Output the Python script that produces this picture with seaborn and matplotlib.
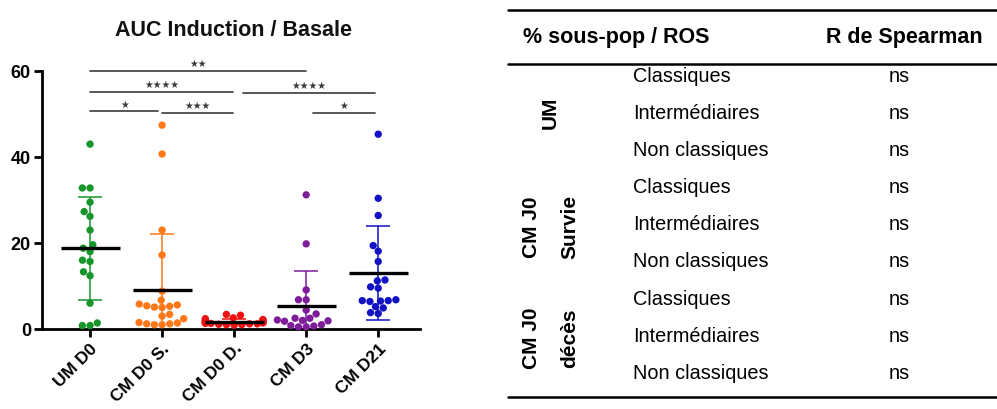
import numpy as np
import pandas as pd
import matplotlib
matplotlib.use("Agg")
import matplotlib.pyplot as plt
import seaborn as sns

# ---- data ----
groups = ["UM D0", "CM D0 S.", "CM D0 D.", "CM D3", "CM D21"]
colors = ["#16962a", "#ff7716", "#ee1111", "#7d1d9a", "#1212c4"]

um_d0 = [43.0, 32.8, 32.8, 29.5, 27.3, 26.2, 23.0, 19.6, 18.8, 18.0,
         16.0, 15.7, 13.3, 12.4, 6.0, 1.4, 0.8, 0.8]
cm_d0_s = [47.4, 40.7, 23.0, 17.2, 8.8, 6.7, 5.6, 5.3, 5.1, 5.0, 5.4,
           5.8, 3.4, 3.0, 2.4, 1.4, 1.2, 1.0, 1.0, 1.2, 1.5]
cm_d0_d = [3.4, 3.2, 2.6, 2.4, 2.2, 2.1, 2.0, 1.9, 1.8, 1.7, 1.6,
           1.5, 1.5, 1.4, 1.3, 1.3, 1.2, 1.2, 1.1, 1.0, 1.0, 0.9]
cm_d3 = [31.2, 19.8, 9.1, 6.8, 6.8, 4.4, 3.5, 2.5, 2.5, 2.1, 1.8,
         1.9, 2.0, 1.0, 0.8, 0.7, 0.5, 0.5]
cm_d21 = [45.3, 30.4, 26.4, 19.4, 18.1, 15.7, 11.4, 11.2, 9.8, 9.5,
          6.8, 6.6, 6.6, 6.5, 6.4, 5.2, 4.9, 3.8, 3.6]
values = [um_d0, cm_d0_s, cm_d0_d, cm_d3, cm_d21]

# significance comparisons: (group a, group b, height, label)
comparisons = [
    ("UM D0", "CM D3", 60.0, "★★"),
    ("UM D0", "CM D0 D.", 55.2, "★★★★"),
    ("CM D0 D.", "CM D21", 54.9, "★★★★"),
    ("UM D0", "CM D0 S.", 50.6, "★"),
    ("CM D0 S.", "CM D0 D.", 50.3, "★★★"),
    ("CM D3", "CM D21", 50.3, "★"),
]
# start/end trims (in category units) of the comparison lines
comp_trim = [(0, 0), (0, 0.01), (0.12, 0.05), (0, 0.05), (0, 0.01), (0.1, 0.05)]

# table on the right
table_header = ["% sous-pop / ROS", "R de Spearman"]
subpops = ["Classiques", "Intermédiaires", "Non classiques"] * 3
spearman = ["ns"] * 9
row_groups = [("UM", None), ("CM J0", "Survie"), ("CM J0", "décès")]

df = pd.DataFrame({
    "group": np.repeat(groups, [len(v) for v in values]),
    "auc": np.concatenate(values),
})

sns.set_style("ticks", {"axes.edgecolor": "black", "text.color": "black",
                        "xtick.color": "black", "ytick.color": "black"})
plt.rcParams["font.family"] = ["Liberation Sans", "DejaVu Sans"]

W, H = 997, 410
fig = plt.figure(figsize=(W / 100, H / 100), dpi=100)

# ---- left chart ----
ax = fig.add_axes([42 / W, (H - 330) / H, (420 - 42) / W, 258 / H])
sns.swarmplot(data=df, x="group", y="auc", order=groups, hue="group",
              hue_order=groups, palette=colors, size=5.3, legend=False,
              ax=ax, zorder=3)
for coll in ax.collections:
    coll.set_clip_on(False)

stats = df.groupby("group")["auc"].agg(["mean", "std"]).reindex(groups)
for i, g in enumerate(groups):
    m, s = stats.loc[g, "mean"], stats.loc[g, "std"]
    ax.errorbar(i, m, yerr=s, color=colors[i], lw=1.3, capsize=8.5,
                capthick=1.3, zorder=2, alpha=0.85)
    ax.plot([i - 0.41, i + 0.41], [m, m], color="black", lw=2.4,
            zorder=4, solid_capstyle="butt")

for (a, b, h, lab), (t0, t1) in zip(comparisons, comp_trim):
    x0, x1 = groups.index(a) + t0, groups.index(b) - t1
    ax.plot([x0, x1], [h, h], color="#3a3a3a", lw=1.2, clip_on=False)
    ax.text((x0 + x1) / 2, h + 0.6, lab, ha="center", va="bottom",
            fontsize=7, color="#3a3a3a", family="DejaVu Sans")

ax.set_ylim(0, 60)
ax.set_xlim(-0.667, 4.58)
ax.set_yticks([0, 20, 40, 60])
ax.set_xlabel("")
ax.set_ylabel("")
sns.despine(ax=ax)
ax.spines["left"].set_linewidth(2)
ax.spines["bottom"].set_linewidth(2)
ax.tick_params(axis="both", width=2, length=6, pad=2, colors="black")
for lbl in ax.get_yticklabels():
    lbl.set_fontsize(13)
    lbl.set_fontweight("bold")
ax.set_xticks(range(len(groups)))
ax.set_xticklabels(groups, rotation=45, ha="right", rotation_mode="anchor",
                   fontsize=12.5, fontweight="bold")
fig.text(233 / W, 1 - 31 / H, "AUC Induction / Basale", ha="center",
         va="center", fontsize=15.5, fontweight="bold", color="#111111")

# ---- right table ----
tx = fig.add_axes([0, 0, 1, 1], zorder=-1)
tx.set_xlim(0, W)
tx.set_ylim(H, 0)
tx.axis("off")
for y in [11, 65, 398]:
    tx.plot([508, W], [y, y], color="black", lw=1.8)
tx.text(523, 37, table_header[0], ha="left", va="center", fontsize=15.5,
        fontweight="bold")
tx.text(983, 37, table_header[1], ha="right", va="center", fontsize=15.5,
        fontweight="bold")
row_y = [76 + 37.2 * k for k in range(len(subpops))]
for y, sp, r in zip(row_y, subpops, spearman):
    tx.text(633, y, sp, ha="left", va="center", fontsize=14.3)
    tx.text(899, y, r, ha="center", va="center", fontsize=14.3)
for k, (g1, g2) in enumerate(row_groups):
    yc = row_y[3 * k + 1]
    if g2 is None:
        tx.text(550, yc, g1, rotation=90, ha="center", va="center",
                fontsize=15, fontweight="bold")
    else:
        tx.text(531, yc + 2, g1, rotation=90, ha="center", va="center",
                fontsize=15, fontweight="bold")
        tx.text(570, yc + 2, g2, rotation=90, ha="center", va="center",
                fontsize=15, fontweight="bold")

fig.savefig("out.png", dpi=100)
